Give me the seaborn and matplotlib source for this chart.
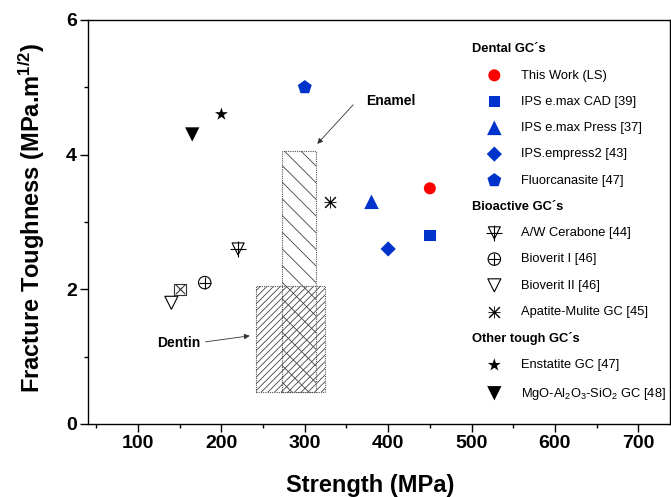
import matplotlib
matplotlib.use("Agg")
import matplotlib.pyplot as plt
from matplotlib.patches import Rectangle
from matplotlib.lines import Line2D
import seaborn as sns

# Dental glass-ceramics
this_work_x, this_work_y = [450], [3.5]
emax_cad_x, emax_cad_y = [450], [2.8]
emax_press_x, emax_press_y = [380], [3.3]
empress2_x, empress2_y = [400], [2.6]
fluorcan_x, fluorcan_y = [300], [5.0]

# Bioactive glass-ceramics
cerabone_x, cerabone_y = [220], [2.6]
bioverit1_x, bioverit1_y = [180], [2.1]
bioverit2_x, bioverit2_y = [140], [1.8]
apatite_x, apatite_y = [330], [3.3]
boxed_x, boxed_y = [150], [2.0]   # unlabeled point

# Other tough glass-ceramics
enstatite_x, enstatite_y = [200], [4.6]
mgo_x, mgo_y = [165], [4.3]

# Natural tooth ranges (strength min/max, toughness min/max)
enamel_strength = [273, 313]
enamel_toughness = [0.48, 4.06]
dentin_strength = [242, 324]
dentin_toughness = [0.48, 2.05]

BLUE = "#0033cc"
RED = "#ff0000"

sns.set_theme(style="ticks")
plt.rcParams["font.family"] = ["Liberation Sans", "DejaVu Sans"]
plt.rcParams["mathtext.default"] = "regular"
plt.rcParams["hatch.linewidth"] = 0.6
for key in ["text.color", "axes.labelcolor", "xtick.color", "ytick.color",
            "axes.edgecolor"]:
    plt.rcParams[key] = "black"

fig = plt.figure(figsize=(6.71, 4.97), dpi=100)
ax = fig.add_axes([88 / 671, 73 / 497, 582 / 671, 404 / 497])

LINE_MARKERS = {"+", "x", "|", "_"}


def pts(x, y, marker, s, color="black", filled=True, lw=0.8, z=3):
    """Draw one series with seaborn and return the artist"""
    kw = dict(x=x, y=y, marker=marker, s=s, ax=ax, zorder=z, legend=False)
    if marker in LINE_MARKERS:
        kw.update(color=color, linewidth=lw)
    elif filled:
        kw.update(color=color, edgecolor="none", linewidth=0)
    else:
        kw.update(facecolors="none", edgecolor=color, linewidth=lw)
    sns.scatterplot(**kw)
    return ax.collections[-1]


# tooth boxes
for xs, ys, hatch in [(dentin_strength, dentin_toughness, "/////"),
                      (enamel_strength, enamel_toughness, "\\\\")]:
    ax.add_patch(Rectangle((xs[0], ys[0]), xs[1] - xs[0], ys[1] - ys[0],
                           facecolor="none", edgecolor="#444444",
                           hatch=hatch, linewidth=0, zorder=1))
    ax.add_patch(Rectangle((xs[0], ys[0]), xs[1] - xs[0], ys[1] - ys[0],
                           facecolor="none", edgecolor="#555555",
                           linestyle=(0, (1, 1)), linewidth=0.8, zorder=2))

h_this = pts(this_work_x, this_work_y, "o", 75, RED)
h_cad = pts(emax_cad_x, emax_cad_y, "s", 68, BLUE)
h_press = pts(emax_press_x, emax_press_y, "^", 110, BLUE)
h_emp = pts(empress2_x, empress2_y, "D", 60, BLUE)
h_fluor = pts(fluorcan_x, fluorcan_y, "p", 110, BLUE)

h_cer1 = pts(cerabone_x, cerabone_y, "v", 75, filled=False)
h_cer2 = pts(cerabone_x, cerabone_y, "+", 130)
h_bio1a = pts(bioverit1_x, bioverit1_y, "o", 80, filled=False)
h_bio1b = pts(bioverit1_x, bioverit1_y, "+", 80)
h_bio2 = pts(bioverit2_x, bioverit2_y, "v", 88, filled=False)
h_apa1 = pts(apatite_x, apatite_y, "x", 60, lw=1.0)
h_apa2 = pts(apatite_x, apatite_y, "+", 80, lw=0.6)
pts(boxed_x, boxed_y, "s", 70, color="#333333", filled=False)
pts(boxed_x, boxed_y, "x", 45, color="#333333")

h_enst = pts(enstatite_x, enstatite_y, "*", 95)
h_mgo = pts(mgo_x, mgo_y, "v", 106)

# annotations
arrow = dict(arrowstyle="-|>", color="#333333", lw=0.6, mutation_scale=8,
             shrinkA=0, shrinkB=0)
ax.text(374, 4.8, "Enamel", fontsize=10, fontweight="bold",
        ha="left", va="center")
ax.annotate("", xy=(315, 4.16), xytext=(358, 4.74), arrowprops=arrow)
ax.text(175, 1.2, "Dentin", fontsize=10, fontweight="bold",
        ha="right", va="center")
ax.annotate("", xy=(234, 1.31), xytext=(181, 1.22), arrowprops=arrow)

# axes
ax.set_xlim(40, 738)
ax.set_ylim(0, 6)
ax.set_xticks([100, 200, 300, 400, 500, 600, 700])
ax.set_xticks([50, 150, 250, 350, 450, 550, 650], minor=True)
ax.set_yticks([0, 2, 4, 6])
ax.set_yticks([1, 3, 5], minor=True)
ax.tick_params(which="major", direction="out", length=6, width=1.0,
               labelsize=14, pad=2)
ax.tick_params(which="minor", direction="out", length=3, width=1.0)
for lab in ax.get_xticklabels() + ax.get_yticklabels():
    lab.set_fontweight("bold")
for sp in ax.spines.values():
    sp.set_linewidth(1.0)

ax.set_xlabel("Strength (MPa)", fontsize=17, fontweight="bold")
ax.set_ylabel("Fracture Toughness (MPa.m$^{1/2}$)", fontsize=17,
              fontweight="bold")
ax.xaxis.set_label_coords(0.485, -0.123)
ax.yaxis.set_label_coords(-0.07, 0.51)

# grouped legend
blank = Line2D([], [], linestyle="none")
headers = ["Dental GC\u00b4s", "Bioactive GC\u00b4s", "Other tough GC\u00b4s"]
handles = [blank, h_this, h_cad, h_press, h_emp, h_fluor,
           blank, (h_cer1, h_cer2), (h_bio1a, h_bio1b), h_bio2, (h_apa1, h_apa2),
           blank, h_enst, h_mgo]
labels = [headers[0], "This Work (LS)", "IPS e.max CAD [39]",
          "IPS e.max Press [37]", "IPS.empress2 [43]", "Fluorcanasite [47]",
          headers[1], "A/W Cerabone [44]", "Bioverit I [46]", "Bioverit II [46]",
          "Apatite-Mulite GC [45]",
          headers[2], "Enstatite GC [47]",
          "MgO-Al$_2$O$_3$-SiO$_2$ GC [48]"]
leg = ax.legend(handles, labels, loc="upper left",
                bbox_to_anchor=(0.656, 0.942), frameon=False, fontsize=9.3,
                handlelength=3.8, handletextpad=0.15, labelspacing=1.1,
                borderpad=0, borderaxespad=0)
for col in leg._legend_handle_box.get_children():
    for row in col.get_children():
        area, text = row.get_children()
        if text.get_children()[0].get_text() in headers:
            area.width = 0
            text.get_children()[0].set_fontweight("bold")

fig.savefig("out.png", dpi=100)
